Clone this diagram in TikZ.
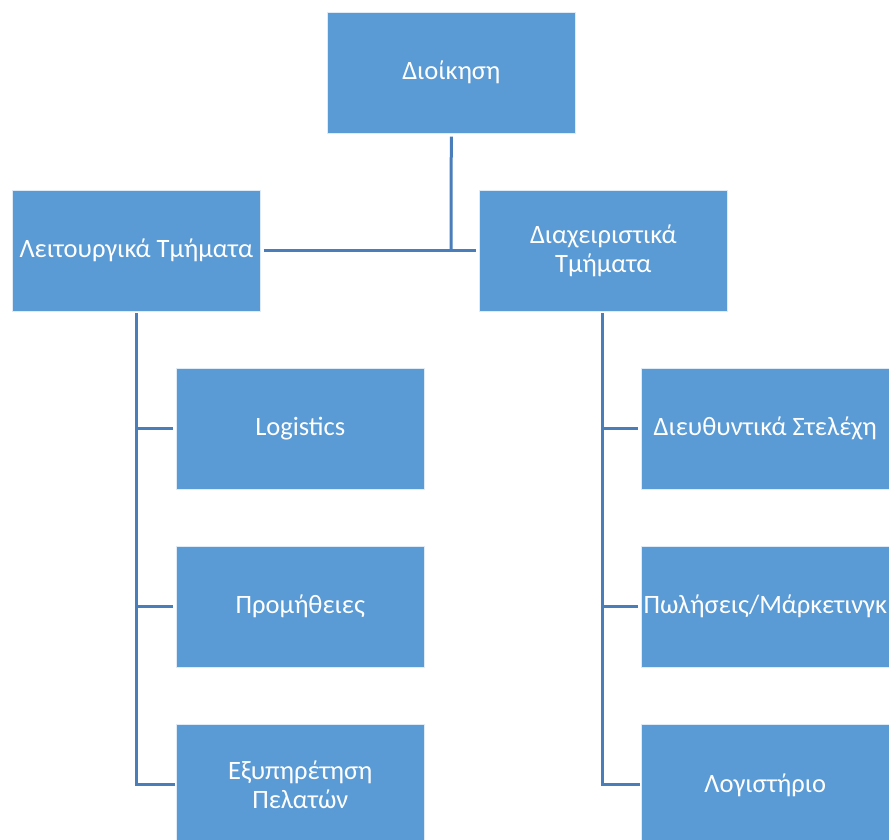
\documentclass[tikz,border=0pt]{standalone}
\usepackage{fontspec}
\setmainfont{Carlito}
\definecolor{boxblue}{HTML}{5B9BD5}
\definecolor{lineblue}{HTML}{4A7EBA}
\begin{document}
\begin{tikzpicture}[x=1pt,y=-1pt,
  unit/.style={draw=white!80!boxblue,line width=0.6pt,fill=boxblue,minimum width=248pt,minimum height=121pt,
    text=white,font=\fontsize{26.5}{29}\selectfont,align=center,inner sep=0pt,anchor=north west},
  link/.style={draw=lineblue,line width=3pt}]
\useasboundingbox (0,0) rectangle (889,840);
\node[unit] (admin) at (327,12) {Διοίκηση};
\node[unit] (op) at (12,190) {Λειτουργικά Τμήματα};
\node[unit] (mg) at (479,190) {Διαχειριστικά\\Τμήματα};
\node[unit] (log) at (176,368) {Logistics};
\node[unit] (prom) at (176,546) {Προμήθειες};
\node[unit] (exy) at (176,724) {Εξυπηρέτηση\\Πελατών};
\node[unit] (dir) at (641,368) {Διευθυντικά Στελέχη};
\node[unit] (sales) at (641,546) {Πωλήσεις/Μάρκετινγκ};
\node[unit] (acc) at (641,724) {Λογιστήριο};
\coordinate (j) at (451,250);
\coordinate (ls) at (136,314);
\coordinate (rs) at (602,314);
\draw[link] ([yshift=-3pt]admin.south) -- (j);
\draw[link] ([xshift=3pt]op.east) -- ([xshift=-3pt]mg.west);
\draw[link,line cap=rect] (ls) |- ([xshift=-3pt]exy.west);
\draw[link] (ls |- log.west) -- ([xshift=-3pt]log.west);
\draw[link] (ls |- prom.west) -- ([xshift=-3pt]prom.west);
\draw[link,line cap=rect] (rs) |- ([xshift=-3pt]acc.west);
\draw[link] (rs |- dir.west) -- ([xshift=-3pt]dir.west);
\draw[link] (rs |- sales.west) -- ([xshift=-3pt]sales.west);
\end{tikzpicture}
\end{document}
